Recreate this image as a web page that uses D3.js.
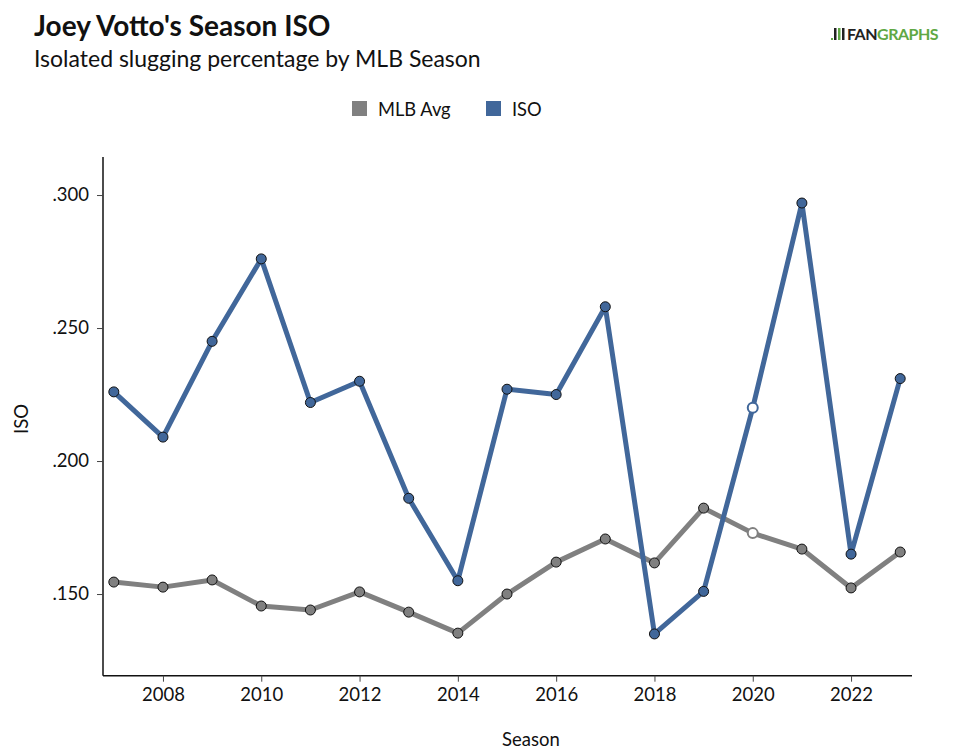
<!DOCTYPE html>
<html><head><meta charset="utf-8">
<script src="https://cdn.jsdelivr.net/npm/d3@7"></script>
<style>body{margin:0;background:#fff;font-family:Lato,"Open Sans",sans-serif;}</style>
</head><body><svg id="c" width="960" height="755"></svg>
<script>
const seasons = [2007,2008,2009,2010,2011,2012,2013,2014,2015,2016,2017,2018,2019,2020,2021,2022,2023];
const isoValues = [0.226,0.209,0.245,0.276,0.222,0.230,0.186,0.155,0.227,0.225,0.258,0.135,0.151,0.220,0.297,0.165,0.231];
const mlbAvgValues = [0.1545,0.1526,0.1553,0.1455,0.1440,0.1508,0.1432,0.1353,0.1500,0.1620,0.1707,0.1617,0.1823,0.1729,0.1669,0.1523,0.1658];
const yTicks = [0.150,0.200,0.250,0.300];
const xTicks = [2008,2010,2012,2014,2016,2018,2020,2022];
const hollowSeason = 2020;

const svg = d3.select("#c");
const x = d3.scaleLinear().domain([2006.78,2023.24]).range([103,912]);
const y = d3.scaleLinear().domain([0.1193,0.3143]).range([675.7,157]);
const blue = "#41679a", gray = "#808080";

svg.append("text").attr("x",34).attr("y",36).attr("font-size",28).attr("font-weight",700).attr("fill","#111").text("Joey Votto's Season ISO");
svg.append("text").attr("x",34).attr("y",67).attr("font-size",23).attr("fill","#111").text("Isolated slugging percentage by MLB Season");

// logo
const lg = svg.append("g").attr("transform","translate(831,40)");
lg.append("rect").attr("x",0).attr("y",-2).attr("width",2).attr("height",2).attr("fill","#5fa844");
lg.append("rect").attr("x",3).attr("y",-12).attr("width",2.5).attr("height",12).attr("fill","#222");
lg.append("rect").attr("x",7).attr("y",-12).attr("width",2.5).attr("height",12).attr("fill","#5fa844");
lg.append("rect").attr("x",11).attr("y",-12).attr("width",2.5).attr("height",12).attr("fill","#222");
lg.append("text").attr("x",16).attr("y",0).attr("font-size",16).attr("font-weight",700).attr("letter-spacing",-0.5)
  .html('<tspan fill="#222">FAN</tspan><tspan fill="#5fa844">GRAPHS</tspan>');

// legend
const leg = [{n:"MLB Avg",c:gray,x:352},{n:"ISO",c:blue,x:486}];
leg.forEach(l=>{
  svg.append("rect").attr("x",l.x).attr("y",101).attr("width",15).attr("height",15).attr("fill",l.c);
  svg.append("text").attr("x",l.x+26).attr("y",116).attr("font-size",18.3).attr("fill","#111").text(l.n);
});

// axes
const xa = svg.append("g").attr("transform","translate(0,675.7)")
  .call(d3.axisBottom(x).tickValues(xTicks).tickFormat(d3.format("d")).tickSizeOuter(0).tickSize(6).tickPadding(6));
const ya = svg.append("g").attr("transform","translate(103,0)")
  .call(d3.axisLeft(y).tickValues(yTicks).tickFormat(d=>d3.format(".3f")(d).replace(/^0/,"")).tickSizeOuter(0).tickSize(6).tickPadding(8));
[xa,ya].forEach(a=>{
  a.select(".domain").attr("stroke","#111").attr("stroke-width",1.5);
  a.selectAll(".tick line").attr("stroke","#444");
  a.selectAll("text").attr("font-size",18.5).attr("font-family","Lato").attr("fill","#111");
});
ya.select(".domain").attr("d","M0,157V675.7");
xa.select(".domain").attr("d","M103,0H912");

svg.append("text").attr("transform","translate(28,419) rotate(-90)").attr("text-anchor","middle").attr("font-size",18.5).attr("fill","#111").text("ISO");
svg.append("text").attr("x",531).attr("y",746).attr("text-anchor","middle").attr("font-size",18.5).attr("fill","#111").text("Season");

function series(vals,color){
  const data = seasons.map((s,i)=>({s,v:vals[i]}));
  svg.append("path").datum(data).attr("fill","none").attr("stroke",color).attr("stroke-width",5)
    .attr("stroke-linejoin","round").attr("d",d3.line().x(d=>x(d.s)).y(d=>y(d.v)));
  svg.selectAll(null).data(data).enter().append("circle")
    .attr("cx",d=>x(d.s)).attr("cy",d=>y(d.v)).attr("r",5)
    .attr("fill",d=>d.s===hollowSeason?"#fff":color).attr("stroke",d=>d.s===hollowSeason?color:"#111").attr("stroke-width",d=>d.s===hollowSeason?2:1);
}
series(mlbAvgValues,gray);
series(isoValues,blue);
</script></body></html>
